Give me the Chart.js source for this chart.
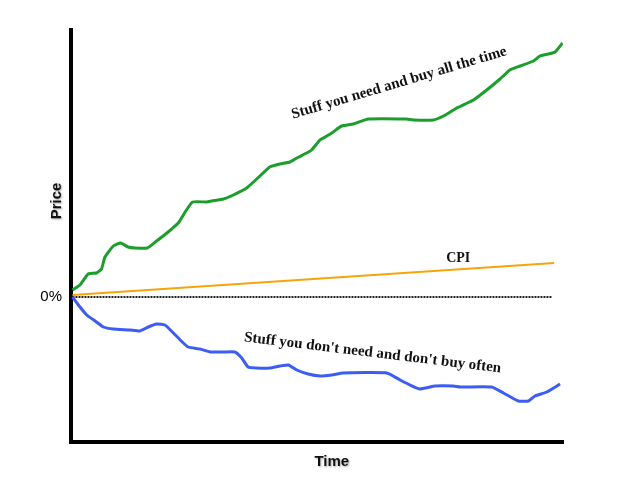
<!DOCTYPE html>
<html>
<head>
<meta charset="utf-8">
<script src="https://cdn.jsdelivr.net/npm/chart.js@4.4.1/dist/chart.umd.min.js"></script>
<style>
  html, body { margin: 0; padding: 0; background: #fff; }
  #wrap { width: 624px; height: 501px; }
</style>
</head>
<body>
<div id="wrap"><canvas id="priceChart" width="624" height="501"></canvas></div>
<script>
// Time runs 0..100, price change is in arbitrary index points (0 = no change)
const needTime   = [0.3, 1.8, 3.5, 5.2, 6.2, 6.9, 8.6, 10.1, 11.6, 13.0, 15.5, 17.4, 19.5, 21.8, 23.2, 24.7, 27.6, 28.6, 31.0, 33.0, 35.7, 38.4, 40.4, 42.5, 44.5, 45.9, 47.9, 48.9, 50.6, 51.3, 53.0, 55.0, 57.4, 60.4, 68.2, 69.6, 73.6, 75.7, 78.4, 81.8, 84.5, 87.2, 89.2, 91.3, 94.0, 95.3, 97.0, 98.4, 99.9];
const needPrice  = [7, 12, 23, 24, 28, 40, 51, 54, 50, 49, 49, 56, 64, 74, 85, 95, 95, 96, 98, 102, 109, 121, 130, 133, 135, 139, 144, 147, 157, 159, 164, 171, 173, 178, 178, 177, 177, 181, 189, 197, 207, 218, 227, 231, 236, 241, 243, 245, 254];

const luxuryTime  = [0.3, 1.5, 3.2, 4.9, 6.6, 8.6, 12.0, 14.0, 15.7, 17.4, 19.1, 20.8, 22.2, 23.8, 26.2, 28.3, 31.0, 33.3, 34.7, 36.0, 37.7, 40.4, 42.5, 44.2, 45.9, 48.2, 50.6, 53.0, 55.3, 64.2, 66.9, 68.9, 70.9, 74.0, 77.7, 79.1, 85.5, 87.9, 90.9, 93.0, 94.3, 96.7, 99.4];
const luxuryPrice = [0, -8, -18, -24, -30, -32, -33, -34, -30, -27, -28, -36, -43, -50, -52, -55, -55, -55, -61, -70, -71, -71, -69, -68, -73, -77, -79, -78, -76, -76, -83, -88, -92, -89, -89, -90, -90, -96, -104, -104, -99, -95, -87];

const cpiTime   = [0.3, 98.2];
const cpiPrice  = [2, 34];

const zeroTime  = [0.3, 97.8];
const zeroPrice = [0, 0];

const yTickValues = [0];
const yTickLabels = ['0%'];

const toPoints = (xs, ys) => xs.map((x, i) => ({ x: x, y: ys[i] }));

// Text drawn on top of the plot, anchored in data units
const notes = [
  { text: 'Stuff you need and buy all the time', x: 66.7, y: 214, angle: -16.6, font: 'bold 15px "Liberation Serif", serif' },
  { text: "Stuff you don't need and don't buy often", x: 61.3, y: -56, angle: 6.9, font: 'bold 15px "Liberation Serif", serif' },
  { text: 'CPI', x: 78.7, y: 39, angle: 0, font: 'bold 14px "Liberation Serif", serif' }
];

const labelsPlugin = {
  id: 'labels',
  afterDraw(chart) {
    const { ctx, chartArea, scales } = chart;
    const xs = scales.x, ys = scales.y;

    ctx.save();
    ctx.fillStyle = '#111';
    ctx.textAlign = 'center';
    ctx.textBaseline = 'middle';
    notes.forEach(n => {
      ctx.save();
      ctx.translate(xs.getPixelForValue(n.x), ys.getPixelForValue(n.y));
      ctx.rotate(n.angle * Math.PI / 180);
      ctx.font = n.font;
      ctx.fillText(n.text, 0, 0);
      ctx.restore();
    });

    // axis titles with a soft shadow
    ctx.shadowColor = 'rgba(0,0,0,0.35)';
    ctx.shadowBlur = 2;
    ctx.shadowOffsetX = 1;
    ctx.shadowOffsetY = 1;
    ctx.font = 'bold 15px "Liberation Sans", Arial, sans-serif';
    ctx.fillText('Time', xs.getPixelForValue(53), chartArea.bottom + 20);

    ctx.translate(chartArea.left - 14, ys.getPixelForValue(96));
    ctx.rotate(-Math.PI / 2);
    ctx.fillText('Price', 0, 0);
    ctx.restore();
  }
};

const ctx = document.getElementById('priceChart').getContext('2d');
new Chart(ctx, {
  type: 'line',
  data: {
    datasets: [
      {
        label: 'Stuff you need and buy all the time',
        data: toPoints(needTime, needPrice),
        borderColor: '#1b9e2c',
        borderWidth: 3,
        pointRadius: 0,
        tension: 0.15
      },
      {
        label: "Stuff you don't need and don't buy often",
        data: toPoints(luxuryTime, luxuryPrice),
        borderColor: '#3d5cf2',
        borderWidth: 3,
        pointRadius: 0,
        tension: 0.15
      },
      {
        label: 'CPI',
        data: toPoints(cpiTime, cpiPrice),
        borderColor: '#f5a50a',
        borderWidth: 2,
        pointRadius: 0
      },
      {
        label: '0%',
        data: toPoints(zeroTime, zeroPrice),
        borderColor: '#222',
        borderWidth: 2,
        borderDash: [2, 1],
        pointRadius: 0
      }
    ]
  },
  options: {
    responsive: false,
    animation: false,
    layout: { padding: { top: 30, right: 61, left: 0, bottom: 0 } },
    plugins: {
      legend: { display: false },
      tooltip: { enabled: false }
    },
    scales: {
      x: {
        type: 'linear',
        min: 0,
        max: 100,
        grid: { display: false },
        border: { color: '#000', width: 4 },
        ticks: { display: false },
        afterFit: scale => { scale.height = 59; }
      },
      y: {
        min: -145,
        max: 267,
        grid: { display: false, drawTicks: false },
        border: { color: '#000', width: 4 },
        afterBuildTicks: scale => {
          scale.ticks = yTickValues.map(v => ({ value: v }));
        },
        ticks: {
          padding: 9,
          color: '#000',
          font: { family: '"Liberation Sans", Arial, sans-serif', size: 15 },
          callback: (value) => yTickLabels[yTickValues.indexOf(value)]
        },
        afterFit: scale => { scale.width = 71; }
      }
    }
  },
  plugins: [labelsPlugin]
});
</script>
</body>
</html>
